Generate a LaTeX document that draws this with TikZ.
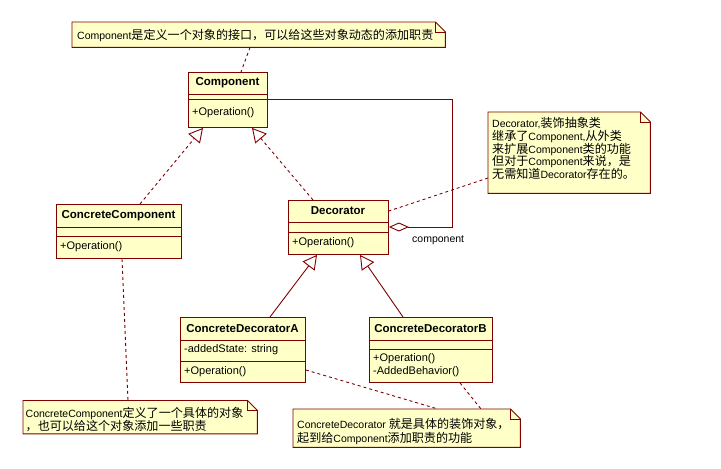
\documentclass[tikz,border=0pt]{standalone}
\usepackage{fontspec}
\setmainfont{Liberation Sans}
\newfontfamily\cjkfam{Noto Sans CJK SC}[Scale=1.15]
\newcommand\zhtext[1]{{\cjkfam #1}}
\usetikzlibrary{arrows.meta,calc}
\definecolor{umlfill}{RGB}{255,255,200}
\definecolor{umlline}{RGB}{128,0,0}
\tikzset{
  cls/.style={draw=umlline, fill=umlfill, line width=0.9pt, rectangle, inner sep=0pt, anchor=north west},
  sep/.style={draw=umlline, line width=0.9pt},
  ttl/.style={font=\fontsize{11.5}{13}\selectfont\bfseries, inner sep=0pt},
  mem/.style={font=\fontsize{11}{13}\selectfont, inner sep=0pt, anchor=west},
  notebg/.style={rectangle, inner sep=0pt, anchor=north west, draw=none},
  noteline/.style={draw=umlline, fill=umlfill, line width=0.9pt, line join=miter},
  notetxt/.style={inner sep=0pt, anchor=base west, align=left},
  dep/.style={draw=umlline, line width=0.9pt, dash pattern=on 3pt off 3pt},
  realize/.style={dep, -{Triangle[open, length=14pt, width=15pt, line width=0.9pt]}},
  inherit/.style={draw=umlline, line width=0.9pt, -{Triangle[open, length=14pt, width=15pt, line width=0.9pt]}},
  agg/.style={draw=umlline, line width=0.9pt, -{Diamond[open, length=20pt, width=9pt, line width=0.9pt]}},
  lbl/.style={font=\fontsize{10.5}{13}\selectfont, inner sep=0pt, anchor=west},
}
\newcommand\umlnoteshape[1]{%
  \draw[noteline] (#1.north west) -- ([xshift=-10pt]#1.north east) -- ([yshift=-10pt]#1.north east) -- (#1.south east) -- (#1.south west) -- cycle;
  \draw[noteline, fill=none] ([xshift=-10pt]#1.north east) -- ([xshift=-10pt,yshift=-10pt]#1.north east) -- ([yshift=-10pt]#1.north east);
}
\begin{document}
\begin{tikzpicture}[x=1pt,y=-1pt]
\useasboundingbox[fill=white] (0,0) rectangle (721,469);

% ---------- notes ----------
\node[notebg, minimum width=373pt, minimum height=25pt] (n1) at (72,22) {};
\umlnoteshape{n1}
\node[notetxt, font=\fontsize{10.5}{13}\selectfont] (n1t) at (77,39) {Component\zhtext{是定义一个对象的接口，可以给这些对象动态的添加职责}};

\node[notebg, minimum width=162pt, minimum height=81pt] (n2) at (488,112) {};
\umlnoteshape{n2}
\node[notetxt, font=\fontsize{10.5}{12.75}\selectfont] (n2t) at (492,178.5) {Decorator,\zhtext{装饰抽象类}\\\zhtext{继承了}Component,\zhtext{从外类}\\\zhtext{来扩展}Component\zhtext{类的功能}\\\zhtext{但对于}Component\zhtext{来说，是}\\\zhtext{无需知道}Decorator\zhtext{存在的。}};

\node[notebg, minimum width=234pt, minimum height=33pt] (n3) at (23,400.5) {};
\umlnoteshape{n3}
\node[notetxt, font=\fontsize{10.5}{13.5}\selectfont] (n3t) at (25.5,430.5) {ConcreteComponent\zhtext{定义了一个具体的对象}\\\zhtext{，也可以给这个对象添加一些职责}};

\node[notebg, minimum width=227pt, minimum height=38pt] (n4) at (293,409) {};
\umlnoteshape{n4}
\node[notetxt, font=\fontsize{10.5}{14}\selectfont] (n4t) at (297,442.5) {ConcreteDecorator \zhtext{就是具体的装饰对象，}\\\zhtext{起到给}Component\zhtext{添加职责的功能}};

% ---------- classes ----------
\node[cls, minimum width=79pt, minimum height=55pt] (comp) at (188,72) {};
\draw[sep] (188,94) -- (267,94);
\draw[sep] (188,99) -- (267,99);
\node[ttl] (compT) at (227.5,83) {Component};
\node[mem] (compO) at (192,113) {+Operation()};

\node[cls, minimum width=100pt, minimum height=54pt] (dec) at (288,200) {};
\draw[sep] (288,222) -- (388,222);
\draw[sep] (288,232) -- (388,232);
\node[ttl] (decT) at (338,211) {Decorator};
\node[mem] (decO) at (292,243) {+Operation()};

\node[cls, minimum width=125pt, minimum height=54pt] (cc) at (56,204) {};
\draw[sep] (56,227) -- (181,227);
\draw[sep] (56,236) -- (181,236);
\node[ttl] (ccT) at (118.5,215.5) {ConcreteComponent};
\node[mem] (ccO) at (60,247) {+Operation()};

\node[cls, minimum width=125pt, minimum height=65pt] (cda) at (180,317) {};
\draw[sep] (180,340) -- (305,340);
\draw[sep] (180,361) -- (305,361);
\node[ttl] (cdaT) at (242.5,328.5) {ConcreteDecoratorA};
\node[mem] (cdaA) at (184,350) {-addedState: string};
\node[mem] (cdaO) at (184,371.5) {+Operation()};

\node[cls, minimum width=123pt, minimum height=65pt] (cdb) at (369,317) {};
\draw[sep] (369,340) -- (492,340);
\draw[sep] (369,349) -- (492,349);
\node[ttl] (cdbT) at (430.5,328.5) {ConcreteDecoratorB};
\node[mem] (cdbO) at (373,358.5) {+Operation()};
\node[mem] (cdbB) at (373,371.5) {-AddedBehavior()};

% ---------- relations ----------
\draw[realize] ([xshift=84pt]cc.north west) -- ([xshift=15pt]comp.south west);
\draw[realize] ([xshift=25pt]dec.north west) -- ([xshift=64pt]comp.south west);
\draw[inherit] ([xshift=90pt]cda.north west) -- ([xshift=29pt]dec.south west);
\draw[inherit] ([xshift=34pt]cdb.north west) -- ([xshift=72pt]dec.south west);
\draw[agg] ([yshift=-27pt]comp.north east) -- (452,99) -- (452,227) -- ([yshift=-27pt]dec.north east);
\node[lbl] (aggL) at (412,240) {component};

% ---------- note anchors ----------
\draw[dep] ([xshift=178pt]n1.south west) -- ([xshift=53pt]comp.north west);
\draw[dep] ([yshift=-66pt]n2.north west) -- ([yshift=-11pt]dec.north east);
\draw[dep] ([xshift=66pt]cc.south west) -- ([xshift=105pt]n3.north west);
\draw[dep] ([yshift=-53pt]cda.north east) -- ([xshift=145pt]n4.north west);
\draw[dep] ([xshift=91pt]cdb.south west) -- ([xshift=188pt]n4.north west);
\end{tikzpicture}
\end{document}
